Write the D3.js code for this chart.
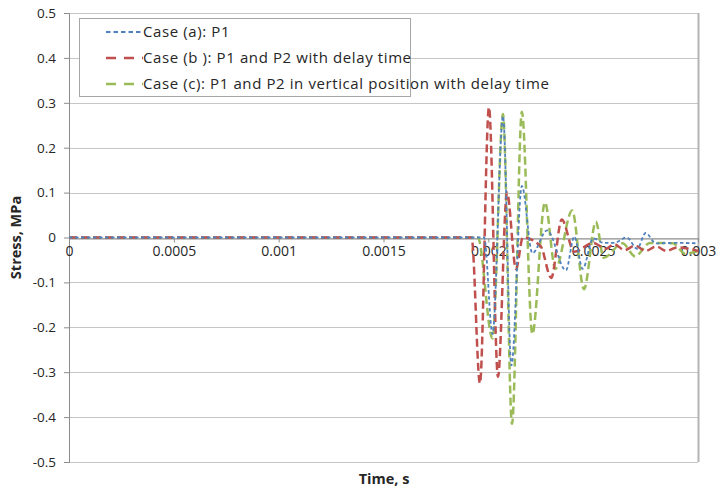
<!DOCTYPE html>
<html>
<head>
<meta charset="utf-8">
<script src="https://cdn.jsdelivr.net/npm/d3@7"></script>
<style>
  body { margin: 0; background: #fff; }
  text { font-family: "Open Sans", "Liberation Sans", sans-serif; }
</style>
</head>
<body>
<div id="chart"></div>
<script>
// Data (time in s, stress in MPa)
var caseATime = [0, 0.0005, 0.001, 0.0015, 0.00198, 0.00202, 0.00207, 0.00211, 0.00216, 0.00221,
  0.00228, 0.00237, 0.00241, 0.00245, 0.0025, 0.00255, 0.0026, 0.00266, 0.00271, 0.00275, 0.0028, 0.0029, 0.003];
var caseAStress = [0, 0, 0, 0, 0, -0.215, 0.27, -0.285, 0.115, -0.035,
  0.016, -0.073, 0.002, -0.07, -0.002, -0.012, -0.012, 0.0, -0.025, 0.01, -0.013, -0.012, -0.013];

var caseBTime = [0, 0.0005, 0.001, 0.0015, 0.00192, 0.00196, 0.002003, 0.002046, 0.002089, 0.002132,
  0.002165, 0.00225, 0.0023, 0.00235, 0.00241, 0.0025, 0.00256, 0.0026, 0.00265, 0.0027,
  0.00275, 0.0028, 0.00285, 0.0029, 0.003];
var caseBStress = [0, 0, 0, 0, 0, -0.325, 0.29, -0.31, 0.1, -0.07,
  0.0, -0.02, -0.09, 0.04, -0.032, -0.012, -0.025, -0.015, -0.028, -0.018,
  -0.03, -0.02, -0.03, -0.022, -0.03];

var caseCTime = [0, 0.0005, 0.001, 0.0015, 0.00195, 0.00202, 0.00207, 0.002113, 0.00216, 0.00221,
  0.00227, 0.00232, 0.0024, 0.002456, 0.002513, 0.00255, 0.00264, 0.0027, 0.00277, 0.00288,
  0.00294, 0.003];
var caseCStress = [0, 0, 0, 0, 0, -0.225, 0.275, -0.415, 0.28, -0.215,
  0.078, -0.07, 0.06, -0.115, 0.035, -0.045, -0.013, -0.042, -0.012, -0.013,
  -0.036, -0.03];

var legendLabels = ["Case (a): P1", "Case (b ): P1 and P2 with delay time",
  "Case (c): P1 and P2 in vertical position with delay time"];
var xTicks = [0, 0.0005, 0.001, 0.0015, 0.002, 0.0025, 0.003];
var xTickLabels = ["0", "0.0005", "0.001", "0.0015", "0.002", "0.0025", "0.003"];
var yTicks = [0.5, 0.4, 0.3, 0.2, 0.1, 0, -0.1, -0.2, -0.3, -0.4, -0.5];
var yTickLabels = ["0.5", "0.4", "0.3", "0.2", "0.1", "0", "-0.1", "-0.2", "-0.3", "-0.4", "-0.5"];

var svgWidth = 718;
var svgHeight = 490;
var margin = { top: 13, right: 20, bottom: 28, left: 69 };
var width = svgWidth - margin.left - margin.right;
var height = svgHeight - margin.top - margin.bottom;

var svg = d3.select("#chart")
  .append("svg")
  .attr("width", svgWidth)
  .attr("height", svgHeight);

svg.append("rect").attr("width", svgWidth).attr("height", svgHeight).attr("fill", "#fff");

var chartGroup = svg.append("g")
  .attr("transform", `translate(${margin.left}, ${margin.top})`);

// scales
var x = d3.scaleLinear().domain([0, 0.003]).range([0, width]);
var y = d3.scaleLinear().domain([-0.5, 0.5]).range([height, 0]);

// gridlines
chartGroup.append("g")
  .selectAll("line")
  .data(yTicks)
  .enter()
  .append("line")
  .attr("x1", 0)
  .attr("x2", width)
  .attr("y1", d => Math.round(y(d)) + 0.5)
  .attr("y2", d => Math.round(y(d)) + 0.5)
  .attr("stroke", "#c6c6c6")
  .attr("stroke-width", 1);

// right frame
chartGroup.append("line")
  .attr("x1", width + 0.5).attr("x2", width + 0.5)
  .attr("y1", 0).attr("y2", height)
  .attr("stroke", "#b4b4b4")
  .attr("stroke-width", 2);

// y axis
var yAxis = d3.axisLeft(y)
  .tickValues(yTicks)
  .tickSize(5)
  .tickPadding(8)
  .tickFormat((d, i) => yTickLabels[i]);

var yAxisGroup = chartGroup.append("g").call(yAxis);
yAxisGroup.select(".domain").attr("stroke", "#8c8c8c");
yAxisGroup.selectAll(".tick line").attr("stroke", "#8c8c8c");
yAxisGroup.selectAll(".tick text")
  .attr("font-size", "13.5px")
  .attr("fill", "#262626")
  .style("font-family", "'Open Sans', sans-serif");

// x axis along zero
var xAxis = d3.axisBottom(x)
  .tickValues(xTicks)
  .tickSize(4)
  .tickPadding(4)
  .tickFormat((d, i) => xTickLabels[i]);

var xAxisGroup = chartGroup.append("g")
  .attr("transform", `translate(0, ${Math.round(y(0)) + 0.5})`)
  .call(xAxis);
xAxisGroup.select(".domain").attr("stroke", "#8c8c8c");
xAxisGroup.selectAll(".tick line").attr("stroke", "#8c8c8c");
xAxisGroup.selectAll(".tick text")
  .attr("font-size", "14px")
  .attr("fill", "#262626")
  .style("font-family", "'Open Sans', sans-serif");

// series lines
var series = [
  { t: caseCTime, s: caseCStress, color: "#9bbb59", dash: "8,4", w: 2.5 },
  { t: caseBTime, s: caseBStress, color: "#c0504d", dash: "8,4", w: 2.5 },
  { t: caseATime, s: caseAStress, color: "#4f81bd", dash: "3.5,2.5", w: 1.8 }
];

var line = d3.line()
  .x(d => x(d[0]))
  .y(d => y(d[1]))
  .curve(d3.curveMonotoneX);

series.forEach(function(sr) {
  chartGroup.append("path")
    .datum(d3.zip(sr.t, sr.s))
    .attr("d", line)
    .attr("fill", "none")
    .attr("stroke", sr.color)
    .attr("stroke-width", sr.w)
    .attr("stroke-dasharray", sr.dash);
});

// legend
var legend = svg.append("g").attr("transform", "translate(79, 18)");
legend.append("rect")
  .attr("x", 0.5).attr("y", 0.5)
  .attr("width", 331).attr("height", 78)
  .attr("fill", "#fff")
  .attr("stroke", "#a6a6a6");

var legendStyles = [
  { color: "#4f81bd", dash: "4.5,3", w: 1.8 },
  { color: "#c0504d", dash: "10,8", w: 2.5 },
  { color: "#9bbb59", dash: "10,8", w: 2.5 }
];

legendLabels.forEach(function(label, i) {
  var row = legend.append("g").attr("transform", `translate(0, ${14 + i * 26})`);
  row.append("line")
    .attr("x1", 27).attr("x2", 64)
    .attr("y1", 0).attr("y2", 0)
    .attr("stroke", legendStyles[i].color)
    .attr("stroke-width", legendStyles[i].w)
    .attr("stroke-dasharray", legendStyles[i].dash);
  row.append("text")
    .attr("x", 64)
    .attr("y", 0)
    .attr("dy", "0.35em")
    .attr("font-size", "15px")
    .attr("letter-spacing", "0.6px")
    .attr("fill", "#262626")
    .text(label);
});

// axis labels
svg.append("text")
  .attr("transform", `translate(21, ${margin.top + y(0)}) rotate(-90)`)
  .attr("text-anchor", "middle")
  .attr("font-size", "14.5px")
  .attr("font-weight", "bold")
  .attr("fill", "#262626")
  .text("Stress, MPa");

svg.append("text")
  .attr("x", 384)
  .attr("y", 484)
  .attr("text-anchor", "middle")
  .attr("font-size", "14.5px")
  .attr("font-weight", "bold")
  .attr("fill", "#262626")
  .text("Time, s");
</script>
</body>
</html>
